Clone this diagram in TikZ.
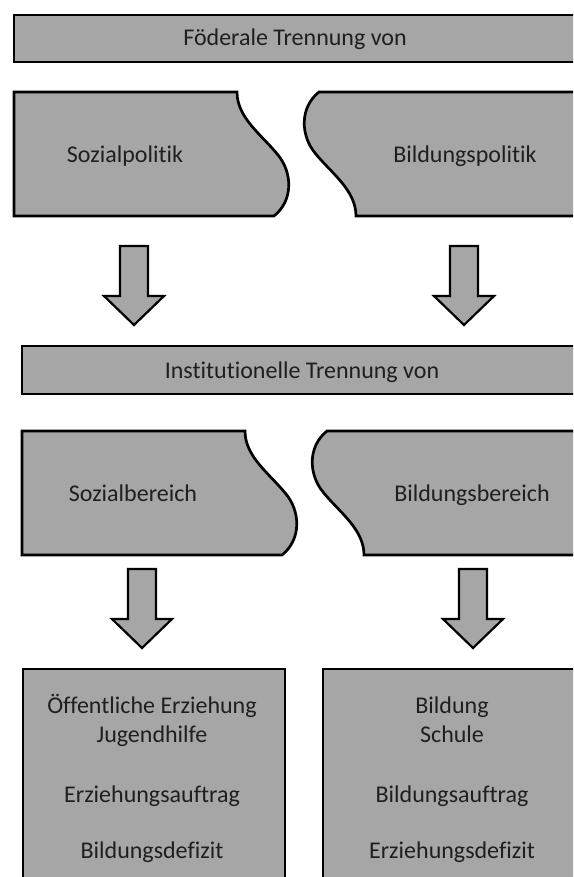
\documentclass[tikz,border=0pt]{standalone}
\usepackage{fontspec}
\setmainfont{Carlito}[Ligatures={NoCommon}]
\definecolor{boxgray}{RGB}{166,166,166}
\begin{document}
\begin{tikzpicture}[x=1pt,y=-1pt,
  shapebox/.style={fill=boxgray,draw=black,line width=2.7pt,line join=miter},
  arrowbox/.style={fill=boxgray,draw=black,line width=2.2pt,line join=miter},
  lbl/.style={anchor=base,inner sep=0pt,font=\fontsize{24}{29}\selectfont,text=black!88},
  downarrow/.pic={\path[arrowbox] (-14,0) -- (14,0) -- (14,50) -- (30,50) -- (0,79) -- (-30,50) -- (-14,50) -- cycle;}
]
\useasboundingbox (0,0) rectangle (573,877);
\fill[white] (0,0) rectangle (573,877);
\clip (0,0) rectangle (573,877);

% top bar
\path[shapebox] (14,15) rectangle (590,62);
\node[lbl] (fed) at (295,46) {Föderale Trennung von};

% row 2
\begin{scope}
\path[shapebox] (14,92) -- (237,92) .. controls (237,118) and (262,135) .. (278,155)
  .. controls (292,172) and (294,200) .. (274,216) -- (14,216) -- cycle;
\path[shapebox] (319,92) -- (590,92) -- (590,216) -- (356,216)
  .. controls (356,190) and (331,173) .. (315,153)
  .. controls (301,136) and (299,108) .. (319,92) -- cycle;
\end{scope}
\node[lbl] (sozpol) at (125,162.5) {Sozialpolitik};
\node[lbl] (bildpol) at (465,162.5) {Bildungspolitik};

% arrows 1
\pic at (134,246) {downarrow};
\pic at (464,246) {downarrow};

% institutional bar
\path[shapebox] (22,346) rectangle (590,394);
\node[lbl] (inst) at (302,378) {Institutionelle Trennung von};

% row 4
\begin{scope}[shift={(8,339)}]
\path[shapebox] (14,92) -- (237,92) .. controls (237,118) and (262,135) .. (278,155)
  .. controls (292,172) and (294,200) .. (274,216) -- (14,216) -- cycle;
\path[shapebox] (319,92) -- (590,92) -- (590,216) -- (356,216)
  .. controls (356,190) and (331,173) .. (315,153)
  .. controls (301,136) and (299,108) .. (319,92) -- cycle;
\end{scope}
\node[lbl] (sozber) at (133,501.5) {Sozialbereich};
\node[lbl] (bildber) at (472,501.5) {Bildungsbereich};

% arrows 2
\pic at (142,569) {downarrow};
\pic at (473,569) {downarrow};

% bottom boxes
\path[shapebox] (23,669) rectangle (285,900);
\path[shapebox] (323,669) rectangle (600,900);

\node[lbl] (l1) at (152,713) {Öffentliche Erziehung};
\node[lbl] (l2) at (152,742) {Jugendhilfe};
\node[lbl] (l3) at (152,802) {Erziehungsauftrag};
\node[lbl] (l4) at (152,858) {Bildungsdefizit};

\node[lbl] (r1) at (452,713) {Bildung};
\node[lbl] (r2) at (452,742) {Schule};
\node[lbl] (r3) at (452,802) {Bildungsauftrag};
\node[lbl] (r4) at (452,858) {Erziehungsdefizit};
\end{tikzpicture}
\end{document}
